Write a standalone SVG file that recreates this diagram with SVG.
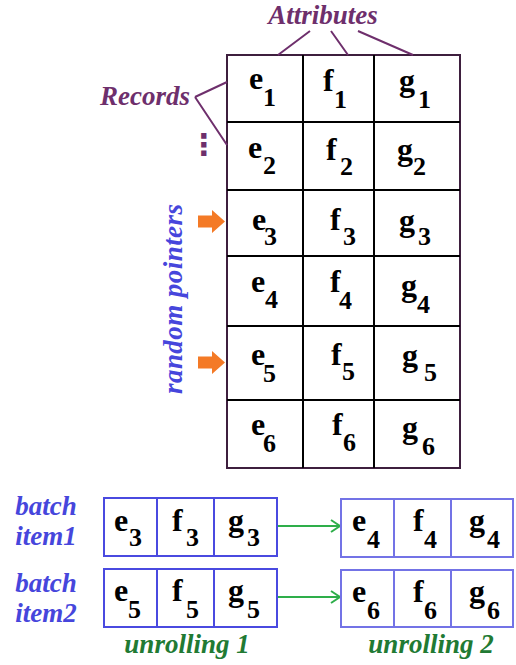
<svg xmlns="http://www.w3.org/2000/svg" width="516" height="665" viewBox="0 0 516 665">
<style>
.lbl{font-family:"Liberation Serif",serif;font-weight:bold;font-style:italic;font-size:27px}
.pur{fill:#6e2f6c}
.blu{fill:#4646dc}
.grn{fill:#217a33}
.v{font-family:"Liberation Serif",serif;font-weight:bold;font-size:32px;fill:#000}
.s{font-family:"Liberation Serif",serif;font-weight:bold;font-size:26px;fill:#000}
.tl{stroke:#000;stroke-width:2;fill:none}
.plink{stroke:#6e2f6c;stroke-width:2;fill:none}
.bb{stroke:#4a4ae0;stroke-width:2;fill:#fff}
.bb2{stroke:#7373e6;stroke-width:2;fill:#fff}
.ga{stroke:#2eae4a;stroke-width:2;fill:none}
</style>
<rect width="516" height="665" fill="#fff"/>

<g id="labels">
<text class="lbl pur" x="323" y="24" text-anchor="middle">Attributes</text>
<text class="lbl pur" x="100" y="105">Records</text>
<text class="pur" x="204" y="155" text-anchor="middle" font-family="DejaVu Sans,sans-serif" font-weight="bold" font-size="30">⋮</text>
<text class="lbl blu" font-size="24" transform="translate(182,299) rotate(-90)" text-anchor="middle" textLength="190" lengthAdjust="spacing">random pointers</text>
<text class="lbl blu" x="46" y="515" text-anchor="middle">batch</text>
<text class="lbl blu" x="46" y="545" text-anchor="middle">item1</text>
<text class="lbl blu" x="46" y="592" text-anchor="middle">batch</text>
<text class="lbl blu" x="46" y="622" text-anchor="middle">item2</text>
<text class="lbl grn" x="187" y="653" text-anchor="middle">unrolling 1</text>
<text class="lbl grn" x="431" y="653" text-anchor="middle">unrolling 2</text>
</g>

<g id="table">
<rect x="227" y="55" width="233" height="413" fill="#fff" stroke="#3e1f3e" stroke-width="2"/>
<path class="tl" d="M303 55V468M374 55V468M227 122H460M227 190H460M227 256H460M227 326H460M227 400H460"/>
</g>

<g id="connectors">
<path class="plink" d="M310 31L278 55M331 31L348 55M358 31L413 55M195 97L227 82M195 97L227 145"/>
<path fill="#f47a26" d="M198 215.5H212V210L225 221.5L212 233V227.5H198Z"/>
<path fill="#f47a26" d="M198 356.5H212V351L225 362.5L212 374V368.5H198Z"/>
<path class="ga" d="M277 526H340M331 520L340 526L331 532"/>
<path class="ga" d="M277 597H340M331 591L340 597L331 603"/>
</g>

<g id="cells">
<text class="v" x="249" y="89">e</text><text class="s" x="263" y="106">1</text>
<text class="v" x="323" y="91">f</text><text class="s" x="334" y="108">1</text>
<text class="v" x="399" y="91">g</text><text class="s" x="418" y="108">1</text>

<text class="v" x="248" y="158">e</text><text class="s" x="263" y="174">2</text>
<text class="v" x="326" y="160">f</text><text class="s" x="340" y="175">2</text>
<text class="v" x="397" y="160">g</text><text class="s" x="413" y="175">2</text>

<text class="v" x="252" y="230">e</text><text class="s" x="264" y="245">3</text>
<text class="v" x="330" y="230">f</text><text class="s" x="343" y="245">3</text>
<text class="v" x="399" y="231">g</text><text class="s" x="418" y="245">3</text>

<text class="v" x="251" y="292">e</text><text class="s" x="265" y="308">4</text>
<text class="v" x="330" y="292">f</text><text class="s" x="339" y="309">4</text>
<text class="v" x="401" y="296">g</text><text class="s" x="417" y="313">4</text>

<text class="v" x="251" y="365">e</text><text class="s" x="263" y="382">5</text>
<text class="v" x="331" y="365">f</text><text class="s" x="342" y="380">5</text>
<text class="v" x="402" y="366">g</text><text class="s" x="424" y="381">5</text>

<text class="v" x="251" y="435">e</text><text class="s" x="263" y="452">6</text>
<text class="v" x="332" y="435">f</text><text class="s" x="343" y="451">6</text>
<text class="v" x="402" y="438">g</text><text class="s" x="422" y="455">6</text>
</g>

<g id="batch1-u1">
<rect class="bb" x="104" y="498" width="173" height="58"/>
<path class="bb" d="M157 498V556M214 498V556"/>
<text class="v" x="114" y="531">e</text><text class="s" x="129" y="546">3</text>
<text class="v" x="172" y="531">f</text><text class="s" x="186" y="546">3</text>
<text class="v" x="228" y="531">g</text><text class="s" x="247" y="546">3</text>
</g>
<g id="batch2-u1">
<rect class="bb" x="104" y="569" width="173" height="58"/>
<path class="bb" d="M157 569V627M214 569V627"/>
<text class="v" x="114" y="601">e</text><text class="s" x="128" y="618">5</text>
<text class="v" x="172" y="601">f</text><text class="s" x="186" y="618">5</text>
<text class="v" x="228" y="601">g</text><text class="s" x="247" y="618">5</text>
</g>
<g id="batch1-u2">
<rect class="bb2" x="341" y="499" width="172" height="58"/>
<path class="bb2" d="M394 499V557M451 499V557"/>
<text class="v" x="352" y="531">e</text><text class="s" x="367" y="548">4</text>
<text class="v" x="413" y="531">f</text><text class="s" x="424" y="548">4</text>
<text class="v" x="469" y="531">g</text><text class="s" x="487" y="548">4</text>
</g>
<g id="batch2-u2">
<rect class="bb2" x="341" y="570" width="172" height="57"/>
<path class="bb2" d="M394 570V627M451 570V627"/>
<text class="v" x="352" y="602">e</text><text class="s" x="367" y="619">6</text>
<text class="v" x="413" y="602">f</text><text class="s" x="424" y="619">6</text>
<text class="v" x="469" y="602">g</text><text class="s" x="487" y="619">6</text>
</g>
</svg>
